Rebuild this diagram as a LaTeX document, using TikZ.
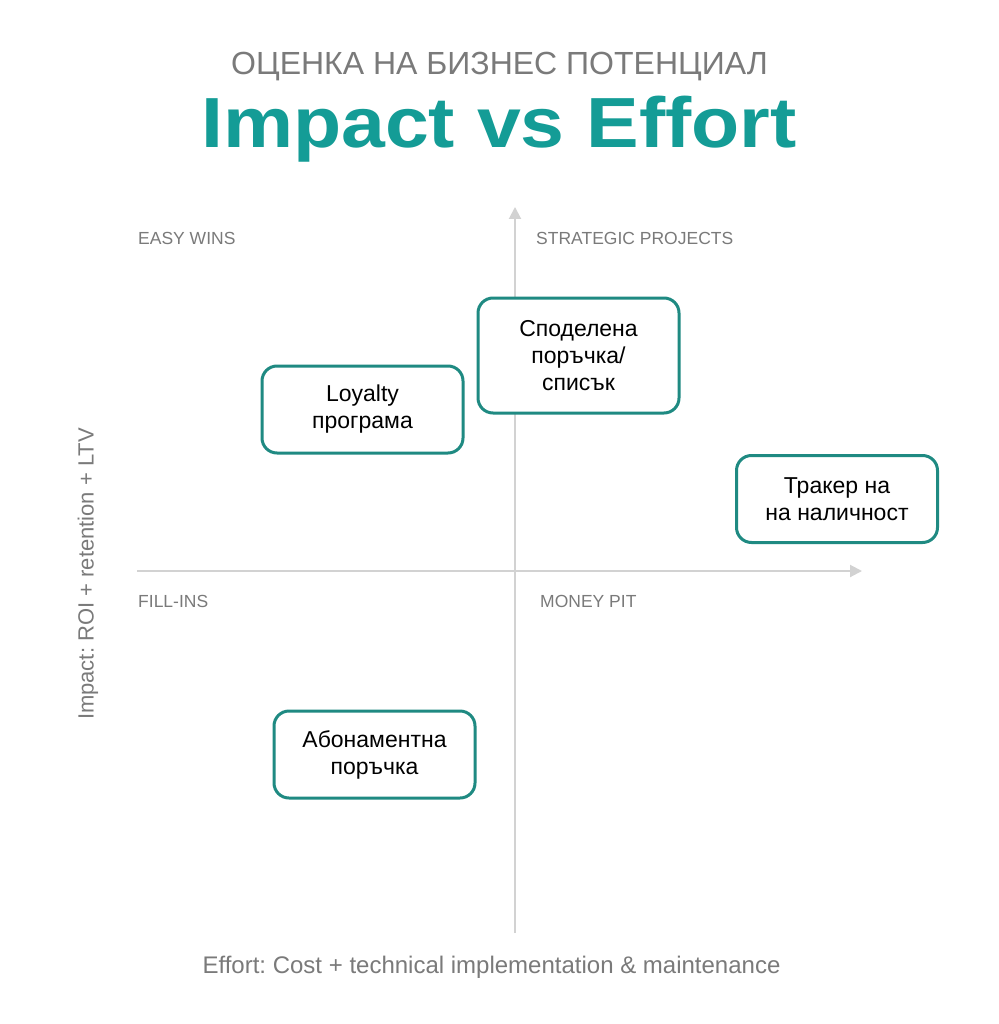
\documentclass[tikz,border=0pt]{standalone}
\usepackage{fontspec}
\setmainfont{Liberation Sans}
\usetikzlibrary{arrows.meta}
\definecolor{teal1}{HTML}{149C96}
\definecolor{tealb}{HTML}{1F8A82}
\definecolor{gtxt}{HTML}{7A7A7A}
\definecolor{gax}{HTML}{D2D2D2}
\tikzset{
  idea/.style={draw=tealb, line width=3pt, rounded corners=15pt, fill=white,
    minimum width=201pt, align=center, inner sep=0pt,
    font=\fontsize{23}{27}\selectfont, text=black},
  quad/.style={anchor=base west, inner sep=0pt, text=gtxt, font=\fontsize{17.5}{20}\selectfont},
  axislabel/.style={inner sep=0pt, text=gtxt},
  axisline/.style={draw=gax, line width=2pt, -{Triangle[length=12pt,width=12pt]}}
}
\frenchspacing
\begin{document}
\begin{tikzpicture}[x=1pt,y=-1pt]
\useasboundingbox[fill=white] (0,0) rectangle (998,1024);
% titles
\node[inner sep=0pt, anchor=base, text=gtxt, font=\fontsize{32}{36}\selectfont] (sub) at (499.5,75) {ОЦЕНКА НА БИЗНЕС ПОТЕНЦИАЛ};
\node[inner sep=0pt, anchor=base, text=teal1, font=\fontsize{71}{80}\selectfont\bfseries] (title) at (499,148) {\scalebox{1.11}[1]{Impact vs Effort}};
% axes
\coordinate (xl) at (137,571);
\coordinate (xr) at (862,571);
\coordinate (yb) at (515,933);
\coordinate (yt) at (515,207);
\draw[axisline] (xl) -- (xr);
\draw[axisline] (yb) -- (yt);
% quadrant labels
\node[quad] (ew) at (138,244) {EASY WINS};
\node[quad] (sp) at (536,244) {STRATEGIC PROJECTS};
\node[quad] (fi) at (138,607) {FILL-INS};
\node[quad] (mp) at (540,607) {MONEY PIT};
% axis labels
\node[axislabel, font=\fontsize{24}{28}\selectfont] (xlab) at (491.5,967) {Effort: Cost + technical implementation \& maintenance};
\node[axislabel, rotate=90, font=\fontsize{22}{26}\selectfont] (ylab) at (88,574) {Impact: ROI + retention + LTV};
% ideas
\node[idea, minimum height=87pt] (loy) at (362.5,409.5) {Loyalty\\програма};
\node[idea, minimum height=115pt] (sha) at (578.5,355.5) {Споделена\\поръчка/\\списък};
\node[idea, minimum height=87pt] (tra) at (837,499) {Тракер на\\на наличност};
\node[idea, minimum height=87pt] (abo) at (374.5,754.5) {Абонаментна\\поръчка};
\end{tikzpicture}
\end{document}
